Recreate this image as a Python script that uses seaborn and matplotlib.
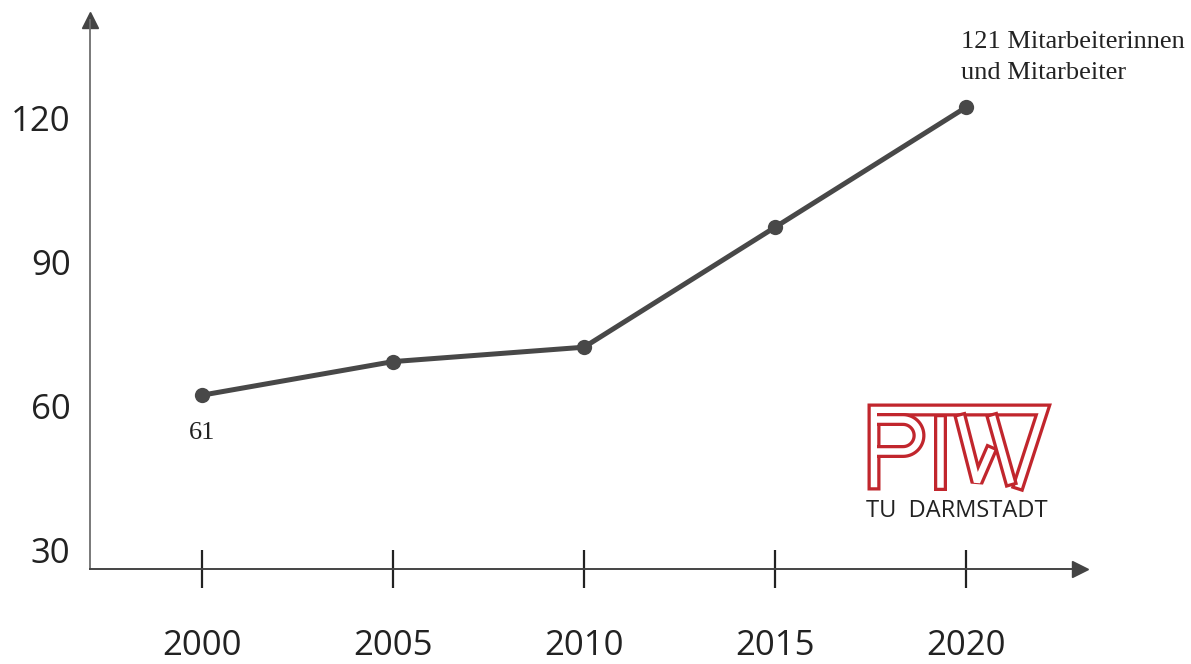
import numpy as np
import pandas as pd
import seaborn as sns
import matplotlib
matplotlib.use("Agg")
from matplotlib import pyplot as plt
from matplotlib.transforms import ScaledTranslation

# data
years = [2000, 2005, 2010, 2015, 2020]
staff = [61, 68, 71, 96, 121]
y_ticks = [30, 60, 90, 120]
first_label = "61"
last_label = "121 Mitarbeiterinnen\nund Mitarbeiter"

df = pd.DataFrame({"year": years, "staff": staff})

sns.set_style("white")
plt.rcParams["font.family"] = ["Open Sans", "DejaVu Sans"]

W, H = 1191, 664
fig = plt.figure(figsize=(W / 100, H / 100), dpi=100)
ax = fig.add_axes([90 / W, 95 / H, 990 / W, 549 / H])

sns.lineplot(data=df, x="year", y="staff", ax=ax, color="#484848", lw=3.6,
             marker="o", markersize=11, markeredgewidth=0)

ax.set_xlim(1997.07, 2022.98)
ax.set_ylim(24.79, 139.17)
ax.set_xlabel("")
ax.set_ylabel("")

ax.spines[["top", "right"]].set_visible(False)
ax.spines["left"].set_color("#6e6e6e")
ax.spines["left"].set_linewidth(1.3)
ax.spines["bottom"].set_color("#444444")
ax.spines["bottom"].set_linewidth(1.4)

ax.set_xticks(years)
ax.set_yticks(y_ticks)
ax.tick_params(axis="x", bottom=True, direction="inout", length=27, width=1.6,
               color="#222222", pad=30, labelsize=25, labelcolor="#222222")
ax.tick_params(axis="y", left=False, length=0, pad=14, labelsize=25, labelcolor="#222222")
# the y labels sit a little lower in the original
for lab in ax.get_yticklabels():
    lab.set_transform(lab.get_transform() + ScaledTranslation(0, -0.06, fig.dpi_scale_trans))

# arrow heads on the axes
ax.plot(1, 0, ">", transform=ax.transAxes, clip_on=False, color="#444444", ms=11.5)
ax.plot(0, 1, "^", transform=ax.transAxes, clip_on=False, color="#444444", ms=11.5)

serif = ["Liberation Serif", "DejaVu Serif"]
ax.annotate(first_label, xy=(years[0], staff[0]), xytext=(0, -27),
            textcoords="offset points", ha="center", va="center",
            fontsize=19, family=serif, color="#222222")
ax.annotate(last_label, xy=(years[-1], staff[-1]), xytext=(-4, 55),
            textcoords="offset points", ha="left", va="top", linespacing=1.55,
            fontsize=19, family=serif, color="#222222")

# logo (pixel coordinates inside a small inset)
red = "#c1262d"
lw_out = 13 * 0.72
lw_in = 6.5 * 0.72
lg = fig.add_axes([855 / W, 1 - 500 / H, 205 / W, 105 / H])
lg.set_xlim(855, 1060)
lg.set_ylim(500, 395)
lg.axis("off")

theta = np.linspace(np.pi / 2, -np.pi / 2, 30)
bowl_x = [877, 903] + list(903 + 16 * np.cos(theta)) + [903, 877]
bowl_y = [419.5, 419.5] + list(435.5 - 16 * np.sin(theta)) + [451.5, 451.5]

main = ([874, 874, 1043, 1019], [484, 410, 410, 484])
strokes = [
    (main, "projecting", "miter"),
    ((bowl_x, bowl_y), "butt", "round"),
    (([939.5, 939.5], [419.5, 484]), "projecting", "miter"),
    (([961, 977, 990], [419.5, 482, 452]), "projecting", "bevel"),
    (([993, 1010], [419.5, 480]), "projecting", "miter"),
]
for (xs, ys), cap, join in strokes:
    lg.plot(xs, ys, color=red, lw=lw_out, solid_capstyle=cap, solid_joinstyle=join)
    lg.plot(xs, ys, color="white", lw=lw_in, solid_capstyle=cap, solid_joinstyle=join)

fig.text(866 / W, 1 - 517 / H, "TU  DARMSTADT", fontsize=17, color="#222222",
         ha="left", va="baseline")

fig.savefig("out.png", dpi=100)
